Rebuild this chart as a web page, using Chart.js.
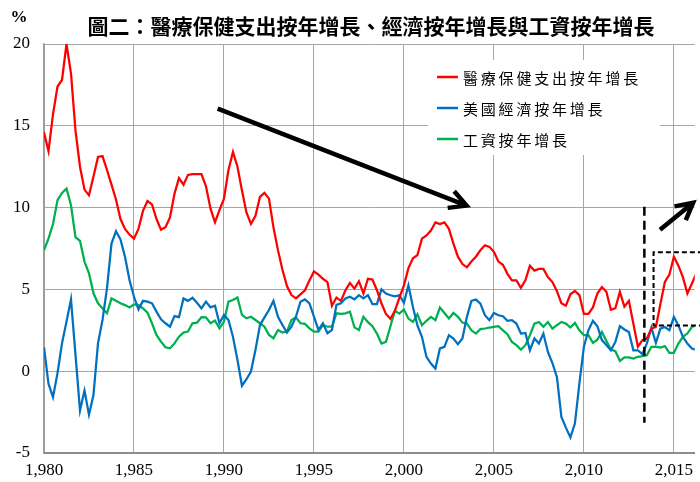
<!DOCTYPE html>
<html>
<head>
<meta charset="utf-8">
<script src="https://cdn.jsdelivr.net/npm/chart.js@4.4.1/dist/chart.umd.min.js"></script>
<style>
  html, body { margin: 0; padding: 0; background: #fff; overflow: hidden; }
  #wrap { position: relative; width: 700px; height: 482px; }
</style>
</head>
<body>
<div id="wrap"><canvas id="chart"></canvas></div>
<script>
// quarterly series, first point = 1980 Q1
const startYear = 1980;
const chartTitle = '圖二：醫療保健支出按年增長、經濟按年增長與工資按年增長';
const seriesNames = ['醫療保健支出按年增長', '美國經濟按年增長', '工資按年增長'];
const seriesColors = ['#FF0000', '#0070C0', '#00B050'];

const healthSpending = [
  14.6, 13.45, 15.7, 17.4, 17.8, 20.0, 18.2, 14.7,
  12.5, 11.1, 10.75, 11.9, 13.1, 13.15, 12.3, 11.4,
  10.5, 9.3, 8.7, 8.35, 8.1, 8.7, 9.8, 10.4,
  10.2, 9.3, 8.65, 8.8, 9.4, 10.85, 11.8, 11.4,
  12.0, 12.05, 12.05, 12.05, 11.3, 9.95, 9.1, 9.85,
  10.55, 12.3, 13.4, 12.5, 11.05, 9.7, 9.0, 9.5,
  10.65, 10.9, 10.55, 8.8, 7.4, 6.2, 5.2, 4.65,
  4.45, 4.7, 4.95, 5.55, 6.1, 5.9, 5.65, 5.45,
  4.0, 4.5, 4.3, 4.95, 5.4, 5.05, 5.5, 4.75,
  5.65, 5.6, 4.95, 4.15, 3.5, 3.2, 3.7, 4.5,
  5.25, 6.3, 6.9, 7.1, 8.1, 8.3, 8.6, 9.1,
  9.0, 9.1, 8.7, 7.8, 7.0, 6.55, 6.35, 6.7,
  7.0, 7.4, 7.7, 7.6, 7.3, 6.7, 6.5, 5.95,
  5.55, 5.55, 5.1, 5.55, 6.45, 6.15, 6.25, 6.25,
  5.75, 5.45, 4.9, 4.15, 4.0, 4.7, 4.9, 4.65,
  3.5, 3.5, 3.9, 4.75, 5.15, 4.85, 3.75, 3.85,
  4.85, 3.95, 4.3, 2.9, 1.5, 1.9, 2.0, 2.6,
  2.7, 4.1, 5.45, 5.9, 7.0, 6.45, 5.75, 4.75,
  5.35, 6.0
];
const gdpGrowth = [
  1.46, -0.77, -1.59, -0.12, 1.7, 3.03, 4.39, 1.0,
  -2.4, -1.18, -2.66, -1.44, 1.7, 3.13, 5.06, 7.8,
  8.56, 8.05, 7.0, 5.57, 4.55, 3.78, 4.3, 4.25,
  4.15, 3.64, 3.17, 2.93, 2.72, 3.37, 3.3, 4.45,
  4.3, 4.49, 4.18, 3.84, 4.25, 3.9, 4.0, 2.93,
  3.44, 3.13, 2.11, 0.69, -0.89, -0.49, -0.02, 1.3,
  2.82, 3.29, 3.74, 4.3, 3.33, 2.82, 2.36, 2.72,
  3.33, 4.25, 4.39, 4.15, 3.33, 2.52, 2.93, 2.32,
  2.52, 4.05, 4.15, 4.45, 4.55, 4.39, 4.65, 4.45,
  4.65, 4.1, 4.1, 5.0, 4.75, 4.64, 4.58, 4.64,
  4.18, 5.25, 3.93, 2.8, 2.1, 0.88, 0.47, 0.16,
  1.39, 1.49, 2.2, 2.0, 1.65, 2.0, 3.32, 4.3,
  4.38, 4.13, 3.42, 3.12, 3.56, 3.42, 3.36, 3.08,
  3.12, 2.91, 2.3, 2.34, 1.28, 2.0, 1.69, 2.3,
  1.18, 0.5, -0.35, -2.79, -3.45, -4.05, -3.2, -0.75,
  1.49, 2.5, 3.08, 2.75, 1.9, 1.6, 1.28, 1.79,
  2.75, 2.55, 2.4, 1.28, 1.28, 1.04, 1.7, 2.67,
  1.73, 2.6, 2.7, 2.5, 3.32, 2.8, 2.1, 1.69,
  1.39, 1.3
];
const wageGrowth = [
  7.4, 8.1, 9.0, 10.45, 10.9, 11.16, 10.14, 8.2,
  7.97, 6.7, 5.98, 4.76, 4.15, 3.84, 3.54, 4.45,
  4.3, 4.15, 4.04, 3.9, 4.08, 4.04, 3.84, 3.58,
  2.93, 2.22, 1.81, 1.46, 1.4, 1.7, 2.11, 2.36,
  2.42, 2.93, 2.97, 3.3, 3.29, 2.93, 3.09, 2.62,
  3.03, 4.25, 4.35, 4.51, 3.44, 3.23, 3.33, 3.13,
  2.93, 2.72, 2.22, 2.01, 2.52, 2.36, 2.42, 3.13,
  3.29, 2.93, 2.89, 2.62, 2.42, 2.42, 2.82, 2.72,
  2.72, 3.54, 3.5, 3.54, 3.64, 2.68, 2.52, 3.33,
  3.0, 2.75, 2.3, 1.69, 1.79, 2.75, 3.69, 3.52,
  3.77, 3.22, 3.01, 3.48, 2.81, 3.08, 3.32, 3.12,
  3.89, 3.56, 3.22, 3.56, 3.32, 2.97, 2.91, 2.5,
  2.3, 2.57, 2.61, 2.67, 2.71, 2.75, 2.5, 2.26,
  1.79, 1.59, 1.32, 1.59, 2.2, 2.91, 3.01, 2.71,
  3.01, 2.6, 2.81, 3.01, 2.91, 2.67, 2.95, 2.5,
  2.2, 2.2, 1.73, 1.93, 2.4, 1.85, 1.32, 1.22,
  0.63, 0.84, 0.84, 0.77, 0.88, 0.92, 0.98, 1.49,
  1.49, 1.45, 1.53, 1.12, 1.12, 1.69, 2.1, 2.3,
  2.7, 2.8
];

const xTicks = [1980, 1985, 1990, 1995, 2000, 2005, 2010, 2015];
const yTicks = [-5, 0, 5, 10, 15, 20];

// annotations, in axis units (year, %)
const trendArrows = [
  { from: [1989.65, 16.05], to: [2003.48, 10.12] },
  { from: [2014.23, 8.65], to: [2016.07, 10.3] }
];
const cutoffLine = { x: 2013.36, y1: 10.05, y2: -3.15 };
const recentBox = { x1: 2013.87, x2: 2017.5, y1: 2.79, y2: 7.27 };

const toPoints = (vals) => vals.map((v, i) => ({ x: startYear + i / 4, y: v }));

const serif = '"Liberation Serif", "Times New Roman", serif';
const cjk = '"Noto Sans CJK TC", "Noto Sans CJK SC", sans-serif';

const titlePlugin = {
  id: 'titleText',
  afterDraw(chart) {
    const ctx = chart.ctx;
    ctx.save();
    ctx.fillStyle = '#000';
    ctx.textAlign = 'center';
    ctx.textBaseline = 'middle';
    ctx.font = 'bold 21px ' + cjk;
    ctx.fillText(chartTitle, 371, 26);
    ctx.font = 'bold 17px ' + serif;
    ctx.fillText('%', 19, 18);
    ctx.restore();
  }
};

const legendPlugin = {
  id: 'boxLegend',
  beforeDatasetsDraw(chart) {
    const ctx = chart.ctx;
    ctx.save();
    ctx.fillStyle = '#fff';
    ctx.fillRect(428, 60, 232, 95);
    ctx.textBaseline = 'middle';
    ctx.textAlign = 'left';
    ctx.font = '15px ' + cjk;
    chart.data.datasets.forEach((ds, i) => {
      const y = 77 + i * 31;
      ctx.strokeStyle = ds.borderColor;
      ctx.lineWidth = 2.5;
      ctx.beginPath();
      ctx.moveTo(437, y);
      ctx.lineTo(458, y);
      ctx.stroke();
      ctx.fillStyle = '#000';
      [...ds.label].forEach((ch, k) => ctx.fillText(ch, 463 + k * 17.8, y + 1));
    });
    ctx.restore();
  }
};

function arrow(ctx, x0, y0, x1, y1) {
  const ang = Math.atan2(y1 - y0, x1 - x0);
  const len = 19, spread = 0.49;
  ctx.beginPath();
  ctx.moveTo(x0, y0);
  ctx.lineTo(x1, y1);
  ctx.moveTo(x1 - len * Math.cos(ang - spread), y1 - len * Math.sin(ang - spread));
  ctx.lineTo(x1, y1);
  ctx.lineTo(x1 - len * Math.cos(ang + spread), y1 - len * Math.sin(ang + spread));
  ctx.stroke();
}

const notesPlugin = {
  id: 'notes',
  afterDatasetsDraw(chart) {
    const ctx = chart.ctx;
    const xs = chart.scales.x, ys = chart.scales.y;
    ctx.save();
    ctx.strokeStyle = '#000';
    ctx.lineCap = 'butt';
    ctx.lineJoin = 'miter';
    ctx.lineWidth = 4.5;
    trendArrows.forEach(a => {
      arrow(ctx, xs.getPixelForValue(a.from[0]), ys.getPixelForValue(a.from[1]),
        xs.getPixelForValue(a.to[0]), ys.getPixelForValue(a.to[1]));
    });
    // dashed cut-off line
    ctx.lineWidth = 2.5;
    ctx.setLineDash([9, 5]);
    const cx = xs.getPixelForValue(cutoffLine.x);
    ctx.beginPath();
    ctx.moveTo(cx, ys.getPixelForValue(cutoffLine.y1));
    ctx.lineTo(cx, ys.getPixelForValue(cutoffLine.y2));
    ctx.stroke();
    // dashed box around recent rebound
    ctx.lineWidth = 2;
    ctx.setLineDash([5, 3]);
    const bx1 = xs.getPixelForValue(recentBox.x1), bx2 = xs.getPixelForValue(recentBox.x2);
    const by1 = ys.getPixelForValue(recentBox.y1), by2 = ys.getPixelForValue(recentBox.y2);
    ctx.beginPath();
    ctx.moveTo(bx2, by2);
    ctx.lineTo(bx1, by2);
    ctx.lineTo(bx1, by1);
    ctx.lineTo(bx2, by1);
    ctx.stroke();
    ctx.restore();
  }
};

const ctx = document.getElementById('chart').getContext('2d');
const lineChart = new Chart(ctx, {
  type: 'line',
  data: {
    datasets: [
      { label: seriesNames[0], data: toPoints(healthSpending), borderColor: seriesColors[0] },
      { label: seriesNames[1], data: toPoints(gdpGrowth), borderColor: seriesColors[1] },
      { label: seriesNames[2], data: toPoints(wageGrowth), borderColor: seriesColors[2] }
    ]
  },
  options: {
    animation: false,
    responsive: true,
    maintainAspectRatio: false,
    devicePixelRatio: 1,
    layout: { padding: { top: 44, left: 0, right: 0, bottom: 0 } },
    elements: {
      point: { radius: 0 },
      line: { borderWidth: 2.25, tension: 0, fill: false }
    },
    plugins: { legend: { display: false }, tooltip: { enabled: false } },
    scales: {
      x: {
        type: 'linear',
        min: startYear,
        max: 2016.16,
        afterBuildTicks: (scale) => { scale.ticks = xTicks.map(v => ({ value: v })); },
        afterFit: (scale) => { scale.height = 29; },
        grid: { color: '#A6A6A6', lineWidth: 1, drawTicks: false },
        border: { color: '#8C8C8C', width: 2 },
        ticks: { font: { family: serif, size: 17 }, color: '#000', padding: 7, maxRotation: 0 }
      },
      y: {
        min: -5,
        max: 20,
        afterBuildTicks: (scale) => { scale.ticks = yTicks.map(v => ({ value: v })); },
        afterFit: (scale) => { scale.width = 44; },
        grid: { color: '#A6A6A6', lineWidth: 1, drawTicks: false },
        border: { color: '#9A9A9A', width: 1.5 },
        ticks: { font: { family: serif, size: 17 }, color: '#000', padding: 14 }
      }
    }
  },
  plugins: [legendPlugin, notesPlugin, titlePlugin]
});
</script>
</body>
</html>
